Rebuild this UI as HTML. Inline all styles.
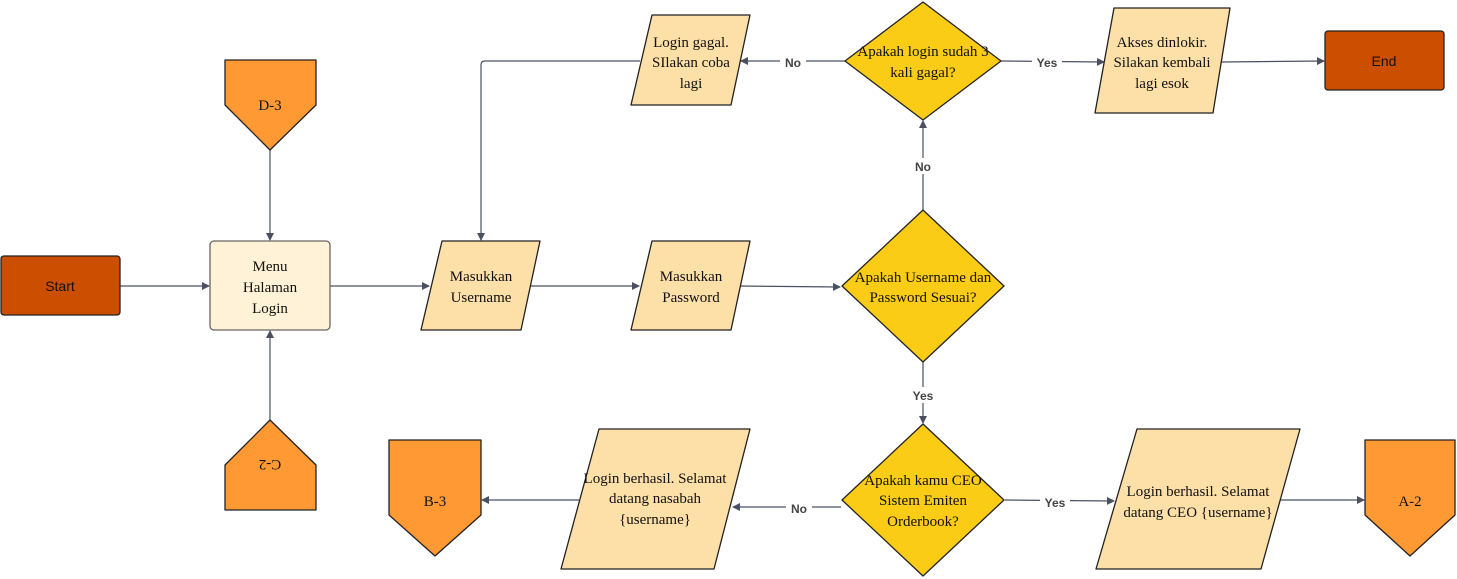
<!DOCTYPE html>
<html><head><meta charset="utf-8"><style>body{margin:0;background:#fff}svg{display:block}</style></head><body>
<svg width="1457" height="579" viewBox="0 0 1457 579" xmlns="http://www.w3.org/2000/svg" font-family="Liberation Serif, serif" font-size="15">
<defs><marker id="a" markerWidth="8" markerHeight="8" refX="7" refY="4" orient="auto" markerUnits="userSpaceOnUse"><path d="M0,0 L8,4 L0,8 z" fill="#4a5060"/></marker></defs>
<g stroke="#4a5060" stroke-width="1.2" fill="none" marker-end="url(#a)">
<path d="M120,286 H209"/>
<path d="M270,150 V240"/>
<path d="M270,420 V331"/>
<path d="M330,286 H429"/>
<path d="M530,286 H639"/>
<path d="M740,286 L840,287"/>
<path d="M923,210 V121"/>
<path d="M845,61 H741"/>
<path d="M640,61 H485 Q481,61 481,65 V240"/>
<path d="M1001,61 L1104,62"/>
<path d="M1222,62 L1324,61"/>
<path d="M923,362 V423"/>
<path d="M841,507 H733"/>
<path d="M579,500 H482"/>
<path d="M1005,500 L1114,501"/>
<path d="M1280,500 H1364"/>
</g>
<g font-family="Liberation Sans, sans-serif" font-size="12" font-weight="bold" fill="#444" text-anchor="middle">
<rect x="910" y="158" width="26" height="16" fill="#fff"/><text x="923" y="171">No</text>
<rect x="780" y="54" width="26" height="16" fill="#fff"/><text x="793" y="67">No</text>
<rect x="1032" y="54" width="30" height="16" fill="#fff"/><text x="1047" y="67">Yes</text>
<rect x="908" y="387" width="30" height="16" fill="#fff"/><text x="923" y="400">Yes</text>
<rect x="786" y="500" width="26" height="16" fill="#fff"/><text x="799" y="513">No</text>
<rect x="1040" y="494" width="30" height="16" fill="#fff"/><text x="1055" y="507">Yes</text>
</g>
<g stroke="#222" stroke-width="1.3">
<rect x="1" y="256" width="119" height="59" rx="3" fill="#CC4E00"/>
<rect x="1325" y="31" width="119" height="59" rx="3" fill="#CC4E00"/>
<rect x="210" y="241" width="120" height="89" rx="4" fill="#FFF2D6" stroke="#666"/>
<path d="M442,241 H540 L521,330 H421 Z" fill="#FDDFA8" stroke-linejoin="round"/>
<path d="M652,241 H750 L731,330 H631 Z" fill="#FDDFA8" stroke-linejoin="round"/>
<path d="M652,15 H750 L731,105 H631 Z" fill="#FDDFA8" stroke-linejoin="round"/>
<path d="M1114,8 H1230 L1213,113 H1095 Z" fill="#FDDFA8" stroke-linejoin="round"/>
<path d="M599,429 H750 L714,569 H561 Z" fill="#FDDFA8" stroke-linejoin="round"/>
<path d="M1137,429 H1300 L1261,569 H1096 Z" fill="#FDDFA8" stroke-linejoin="round"/>
<path d="M923,210 L1004,286 L923,362 L842,286 Z" fill="#FACC15" stroke-linejoin="round"/>
<path d="M923,2 L1001,61 L923,120 L845,61 Z" fill="#FACC15" stroke-linejoin="round"/>
<path d="M923,424 L1004,500 L923,576 L842,500 Z" fill="#FACC15" stroke-linejoin="round"/>
<path d="M225,60 H316 V105 L270,150 L225,105 Z" fill="#FF9933" stroke-linejoin="round"/>
<path d="M225,510 H316 V465 L270,420 L225,465 Z" fill="#FF9933" stroke-linejoin="round"/>
<path d="M389,440 H481 V515 L435,556 L389,515 Z" fill="#FF9933" stroke-linejoin="round"/>
<path d="M1365,440 H1455 V515 L1410,556 L1365,515 Z" fill="#FF9933" stroke-linejoin="round"/>
</g>
<g text-anchor="middle" fill="#111">
<text x="60" y="291" font-family="Liberation Sans, sans-serif" font-size="14">Start</text>
<text x="1384" y="66" font-family="Liberation Sans, sans-serif" font-size="14">End</text>
<text x="270" y="271">Menu</text><text x="270" y="292">Halaman</text><text x="270" y="313">Login</text>
<text x="481" y="281">Masukkan</text><text x="481" y="302">Username</text>
<text x="691" y="281">Masukkan</text><text x="691" y="302">Password</text>
<text x="691" y="47">Login gagal.</text><text x="691" y="67">SIlakan coba</text><text x="691" y="88">lagi</text>
<text x="1162" y="47">Akses dinlokir.</text><text x="1162" y="67">Silakan kembali</text><text x="1162" y="88">lagi esok</text>
<text x="923" y="282">Apakah Username dan</text><text x="923" y="302">Password Sesuai?</text>
<text x="923" y="56">Apakah login sudah 3</text><text x="923" y="77">kali gagal?</text>
<text x="923" y="485">Apakah kamu CEO</text><text x="923" y="505">Sistem Emiten</text><text x="923" y="526">Orderbook?</text>
<text x="655" y="483">Login berhasil. Selamat</text><text x="655" y="503">datang nasabah</text><text x="655" y="524">{username}</text>
<text x="1198" y="496">Login berhasil. Selamat</text><text x="1198" y="517">datang CEO {username}</text>
<text x="270" y="110">D-3</text>
<text x="270" y="470" transform="rotate(180 270 465)">C-2</text>
<text x="435" y="506">B-3</text>
<text x="1410" y="506">A-2</text>
</g>
</svg>
</body></html>
